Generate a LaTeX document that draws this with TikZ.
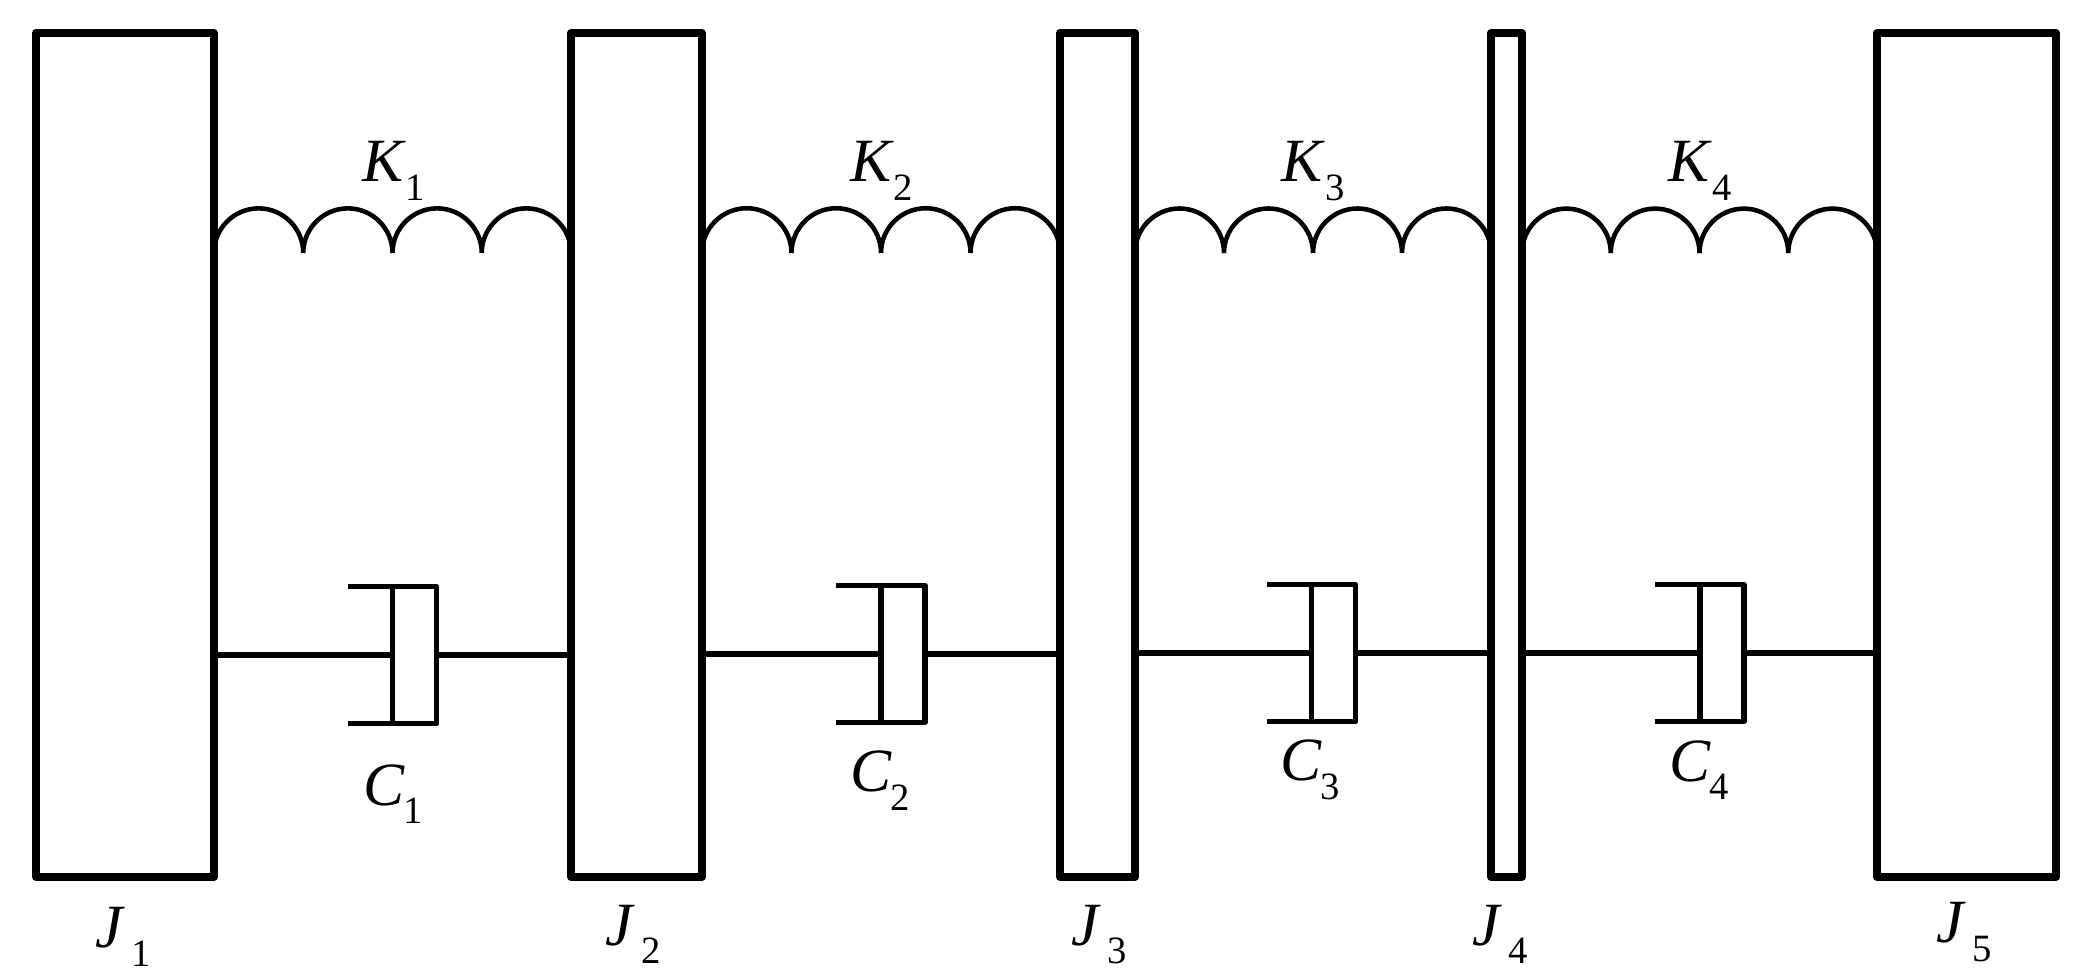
\documentclass[tikz,border=0pt]{standalone}
\usepackage{fontspec}
\setmainfont{Liberation Serif}
\usetikzlibrary{calc}
\newcommand{\sublab}[3][0em]{\textit{#2}\kern#1\raisebox{-.3em}{\fontsize{22}{26}\selectfont #3}}
\tikzset{
    inertia/.style={draw, line width=4.5pt, line join=round, outer sep=0pt, minimum height=16.88cm, inner sep=0pt},
    dampbox/.style={outer sep=0pt, inner sep=0pt, minimum width=.88cm, minimum height=2.74cm},
    dampline/.style={line width=3.1pt},
    springline/.style={line width=2.6pt},
    symb/.style={inner sep=0pt, font=\fontsize{35}{40}\selectfont}
}

\begin{document}
\begin{tikzpicture}
        \useasboundingbox (0,0) rectangle (41.72,19.56);

        \node[inertia, minimum width=3.56cm] (J1) at (2.5,10.46) {};
        \node[inertia, minimum width=2.62cm] (J2) at (12.73,10.46) {};
        \node[inertia, minimum width=1.5cm] (J3) at (21.95,10.46) {};
        \node[inertia, minimum width=.62cm] (J4) at (30.13,10.46) {};
        \node[inertia, minimum width=3.58cm] (J5) at (39.33,10.46) {};

        \node[dampbox] (D1) at (8.29,6.46) {};
        \node[dampbox] (D2) at (18.06,6.48) {};
        \node[dampbox] (D3) at (26.67,6.5) {};
        \node[dampbox] (D4) at (34.44,6.5) {};

        \foreach \a/\b/\d in {J1/J2/D1,J2/J3/D2,J3/J4/D3,J4/J5/D4}{
            \draw[springline] let \p1=(\a.east), \p2=(\b.west), \n1={(\x2-\x1)/8} in
                (\x1,14.5cm) arc[start angle=180,end angle=0,radius=\n1]
                arc[start angle=180,end angle=0,radius=\n1]
                arc[start angle=180,end angle=0,radius=\n1]
                arc[start angle=180,end angle=0,radius=\n1];
            \draw[dampline, line join=round] (\d.north west) ++(-.9,0) -- (\d.north east) -- (\d.south east) -- ++(-1.78,0);
            \draw[dampline] (\d.north west) -- (\d.south west);
            \draw[dampline] (\d.west -| \a.east) -- (\d.west);
            \draw[dampline] (\d.east) -- (\d.east -| \b.west);
        }

        \node[symb] (K1) at (7.87,16.14) {\sublab{K}{1}};
        \node[symb] (K2) at (17.63,16.14) {\sublab{K}{2}};
        \node[symb] (K3) at (26.26,16.14) {\sublab{K}{3}};
        \node[symb] (K4) at (34.0,16.14) {\sublab{K}{4}};

        \node[symb] (C1) at (7.87,3.68) {\sublab[-.03em]{C}{1}};
        \node[symb] (C2) at (17.61,3.95) {\sublab[-.03em]{C}{2}};
        \node[symb] (C3) at (26.21,4.16) {\sublab[-.03em]{C}{3}};
        \node[symb] (C4) at (33.98,4.16) {\sublab[-.03em]{C}{4}};

        \node[symb] (L1) at (2.46,.82) {\sublab[.1em]{J}{1}};
        \node[symb] (L2) at (12.66,.87) {\sublab[.1em]{J}{2}};
        \node[symb] (L3) at (21.99,.87) {\sublab[.1em]{J}{3}};
        \node[symb] (L4) at (30.0,.87) {\sublab[.1em]{J}{4}};
        \node[symb] (L5) at (39.29,.92) {\sublab[.1em]{J}{5}};

    \end{tikzpicture}
\end{document}
